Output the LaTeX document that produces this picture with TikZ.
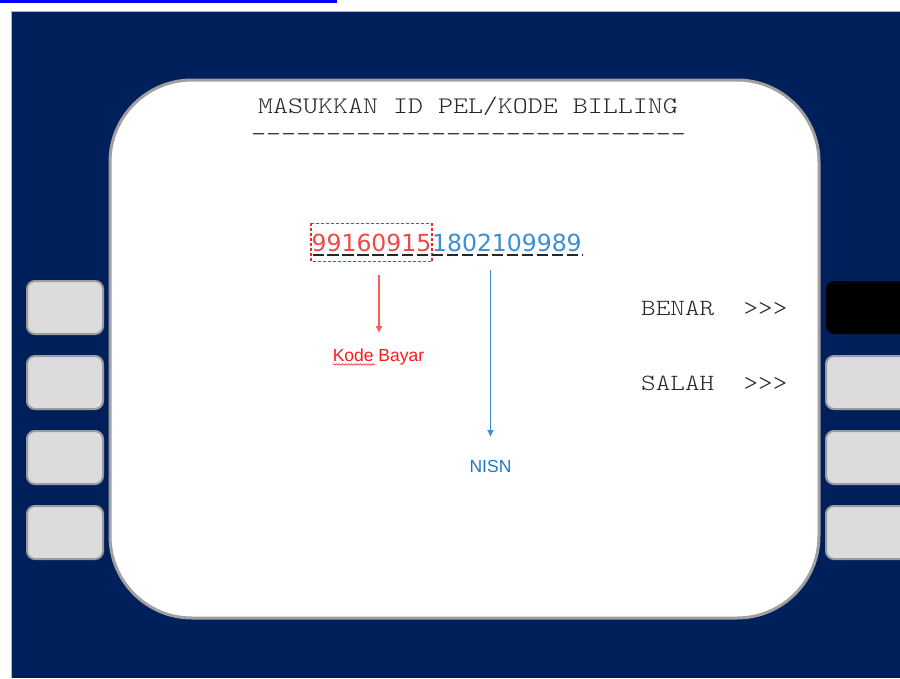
\documentclass[tikz,border=0pt]{standalone}
\usepackage{fontspec}
\setmonofont[FakeStretch=1.2]{lmmonolt10-regular.otf}
\newfontfamily\digitfont{DejaVu Sans}
\newfontfamily\labelfont{Liberation Sans}
\usetikzlibrary{positioning, arrows.meta, decorations.pathmorphing}
\definecolor{atmnavy}{RGB}{0,32,92}
\definecolor{keygray}{RGB}{220,220,220}
\definecolor{keyedge}{RGB}{156,156,156}
\definecolor{screenedge}{RGB}{160,160,160}
\definecolor{kodered}{RGB}{240,72,72}
\definecolor{boxred}{RGB}{235,40,40}
\definecolor{nisnblue}{RGB}{58,142,214}
\definecolor{labelred}{RGB}{255,26,26}
\definecolor{labelblue}{RGB}{30,118,200}
\definecolor{arrowred}{RGB}{255,90,90}

\begin{document}
\begin{tikzpicture}[x=1pt, y=-1pt,
	key/.style={draw=keyedge, line width=2pt, fill=keygray, rounded corners=8pt},
	screentext/.style={inner sep=0pt, anchor=base, font=\ttfamily\fontsize{23.8}{23.8}\selectfont, text=black!85},
	menu/.style={inner sep=0pt, anchor=base west, font=\ttfamily\fontsize{23.2}{23.2}\selectfont, text=black!85},
	digits/.style={inner sep=0pt, anchor=base west, font=\digitfont\fontsize{23.5}{23.5}\selectfont},
	callout/.style={inner sep=0pt, anchor=base, font=\labelfont\fontsize{17.5}{17.5}\selectfont},
	pointer/.style={line width=1.3pt, -{Latex[length=7pt,width=7pt]}}]
	\useasboundingbox (0,0) rectangle (900,678);
	\clip (0,0) rectangle (900,678);

	\fill[blue] (0,0) rectangle (337,2.5);
	\fill[atmnavy] (11,11) rectangle (900,678);
	\draw[black!30, line width=1pt] (11.5,678) -- (11.5,11.5) -- (900,11.5);
	\draw[screenedge, fill=white, line width=3pt, rounded corners=82pt] (110,80) rectangle (819,618);

	\foreach \y in {281,356,431,506}
		\draw[key] (27,\y) rectangle (103,\y+53);
	\foreach \y in {356,431,506}
		\draw[key] (826,\y) rectangle (930,\y+53);
	\fill[black, rounded corners=8pt] (826,281) rectangle (930,334);

	\node[screentext] (title) at (468,113.5) {MASUKKAN ID PEL/KODE BILLING};
	\node[screentext] (titleline) at (468.5,141) {-----------------------------};

	\node[digits, text=kodered, inner ysep=10pt, inner xsep=0.5pt] (kode) at (311,251) {99160915};
	\node[digits, text=nisnblue] (nisn) at (kode.base east) {1802109989};
	\draw[color=boxred, line width=1.2pt, dash pattern=on 3pt off 2pt] (kode.north west) rectangle (kode.south east);
	\draw[line width=2.8pt, dash pattern=on 11.2pt off 3.75pt, dash phase=-1.5pt, black!85]
		([yshift=-4pt]kode.base west) -- ([yshift=-4pt]nisn.base east);

	\coordinate (kodetop) at (379,275);
	\coordinate (nisntop) at (490.5,270);
	\node[callout, text=labelred] (kodelbl) at (378.5,361) {Kode Bayar};
	\node[callout, text=labelblue] (nisnlbl) at (490.5,472) {NISN};
	\draw[pointer, arrowred, shorten >=15pt] (kodetop) -- (kodetop |- kodelbl.north);
	\draw[pointer, nisnblue, shorten >=22.5pt] (nisntop) -- (nisntop |- nisnlbl.north);
	\draw[labelred, line width=0.6pt, decorate, decoration={snake, amplitude=0.8pt, segment length=3pt}]
		([yshift=-3.5pt]kodelbl.base west) -- ++(42,0);

	\node[menu] (benar) at (641,315) {BENAR~~>>>};
	\node[menu] (salah) at (641,390) {SALAH~~>>>};
\end{tikzpicture}
\end{document}
